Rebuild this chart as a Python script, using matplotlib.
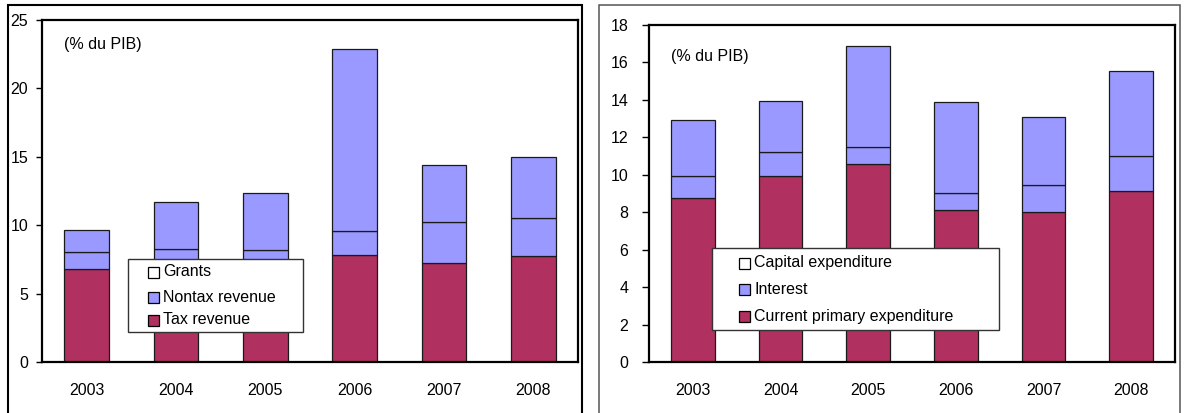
import matplotlib
matplotlib.use("Agg")
import matplotlib.pyplot as plt
from matplotlib.patches import Rectangle

plt.rcParams["font.family"] = ["Liberation Sans", "DejaVu Sans"]

# ---- data (% of GDP) ----
years = ["2003", "2004", "2005", "2006", "2007", "2008"]

tax_revenue = [6.83, 7.10, 7.20, 7.80, 7.27, 7.73]
nontax_revenue = [1.24, 1.19, 1.02, 1.74, 3.00, 2.78]
grants = [1.56, 3.39, 4.15, 13.36, 4.12, 4.49]

current_primary = [8.77, 9.95, 10.59, 8.10, 8.02, 9.13]
interest = [1.19, 1.26, 0.90, 0.92, 1.45, 1.88]
capital_exp = [2.94, 2.72, 5.41, 4.89, 3.61, 4.51]

revenue_labels = ["Grants", "Nontax revenue", "Tax revenue"]
spending_labels = ["Capital expenditure", "Interest", "Current primary expenditure"]
unit_label = "(% du PIB)"

MAROON = "#B03060"
LILAC = "#9999FF"
EDGE = "#1a1a1a"
FS = 11.5

W, H = 1188, 413
fig = plt.figure(figsize=(W / 100, H / 100), dpi=100)


def fx(x):
    return x / W


def fy(y):
    return 1 - y / H


def box_axes(left, top, right, bottom):
    return fig.add_axes([fx(left), fy(bottom), fx(right - left), (bottom - top) / H])


def stacked(ax, series, colors):
    base = [0.0] * len(years)
    x = list(range(len(years)))
    for vals, col in zip(series, colors):
        ax.bar(x, vals, width=0.5, bottom=base, color=col,
               edgecolor=EDGE, linewidth=0.9, zorder=2)
        base = [b + v for b, v in zip(base, vals)]
    ax.set_xticks(x)
    ax.set_xticklabels(years, fontsize=FS)
    ax.set_xlim(-0.5, len(years) - 0.5)
    for s in ax.spines.values():
        s.set_linewidth(1.6)
        s.set_color("black")
    ax.tick_params(axis="x", length=0, pad=15)


def key(box, items, hx, tx, ys, hs=11):
    x0, y0, x1, y1 = box
    fig.patches.append(Rectangle((fx(x0), fy(y1)), fx(x1 - x0), (y1 - y0) / H,
                                 transform=fig.transFigure, facecolor="white",
                                 edgecolor="#333333", linewidth=1.0, zorder=5))
    for (label, col), yc in zip(items, ys):
        fig.patches.append(Rectangle((fx(hx), fy(yc + hs / 2)), fx(hs), hs / H,
                                     transform=fig.transFigure, facecolor=col,
                                     edgecolor="black", linewidth=0.9, zorder=6))
        fig.text(fx(tx), fy(yc), label, fontsize=FS, ha="left", va="center",
                 zorder=7)


# ---- outer panel frames ----
fig.patches.append(Rectangle((fx(8), fy(430)), fx(582 - 8), (430 - 5) / H,
                             transform=fig.transFigure, fill=False,
                             edgecolor="black", linewidth=1.5))
fig.patches.append(Rectangle((fx(599), fy(430)), fx(1180 - 599), (430 - 5) / H,
                             transform=fig.transFigure, fill=False,
                             edgecolor="#555555", linewidth=1.1))

# ---- revenue panel ----
ax1 = box_axes(42, 20, 578, 362)
stacked(ax1, [tax_revenue, nontax_revenue, grants], [MAROON, LILAC, LILAC])
ax1.set_ylim(0, 25)
ax1.set_yticks(range(0, 26, 5))
ax1.tick_params(axis="y", direction="out", length=4, width=1.0, pad=6,
                labelsize=FS)
fig.text(fx(64), fy(45), unit_label, fontsize=FS, ha="left", va="center")
key((128, 259, 303, 332),
    list(zip(revenue_labels, ["white", LILAC, MAROON])),
    148, 163, [272, 297, 320])

# ---- spending panel ----
ax2 = box_axes(649, 25, 1175, 362)
stacked(ax2, [current_primary, interest, capital_exp], [MAROON, LILAC, LILAC])
ax2.set_ylim(0, 18)
ax2.set_yticks(range(0, 19, 2))
ax2.tick_params(axis="y", direction="out", length=5, width=1.0, pad=10,
                labelsize=FS)
fig.text(fx(671), fy(56), unit_label, fontsize=FS, ha="left", va="center")
key((712, 248, 999, 330),
    list(zip(spending_labels, ["white", LILAC, MAROON])),
    739, 754, [263, 289, 316])

fig.savefig("out.png", dpi=100)
